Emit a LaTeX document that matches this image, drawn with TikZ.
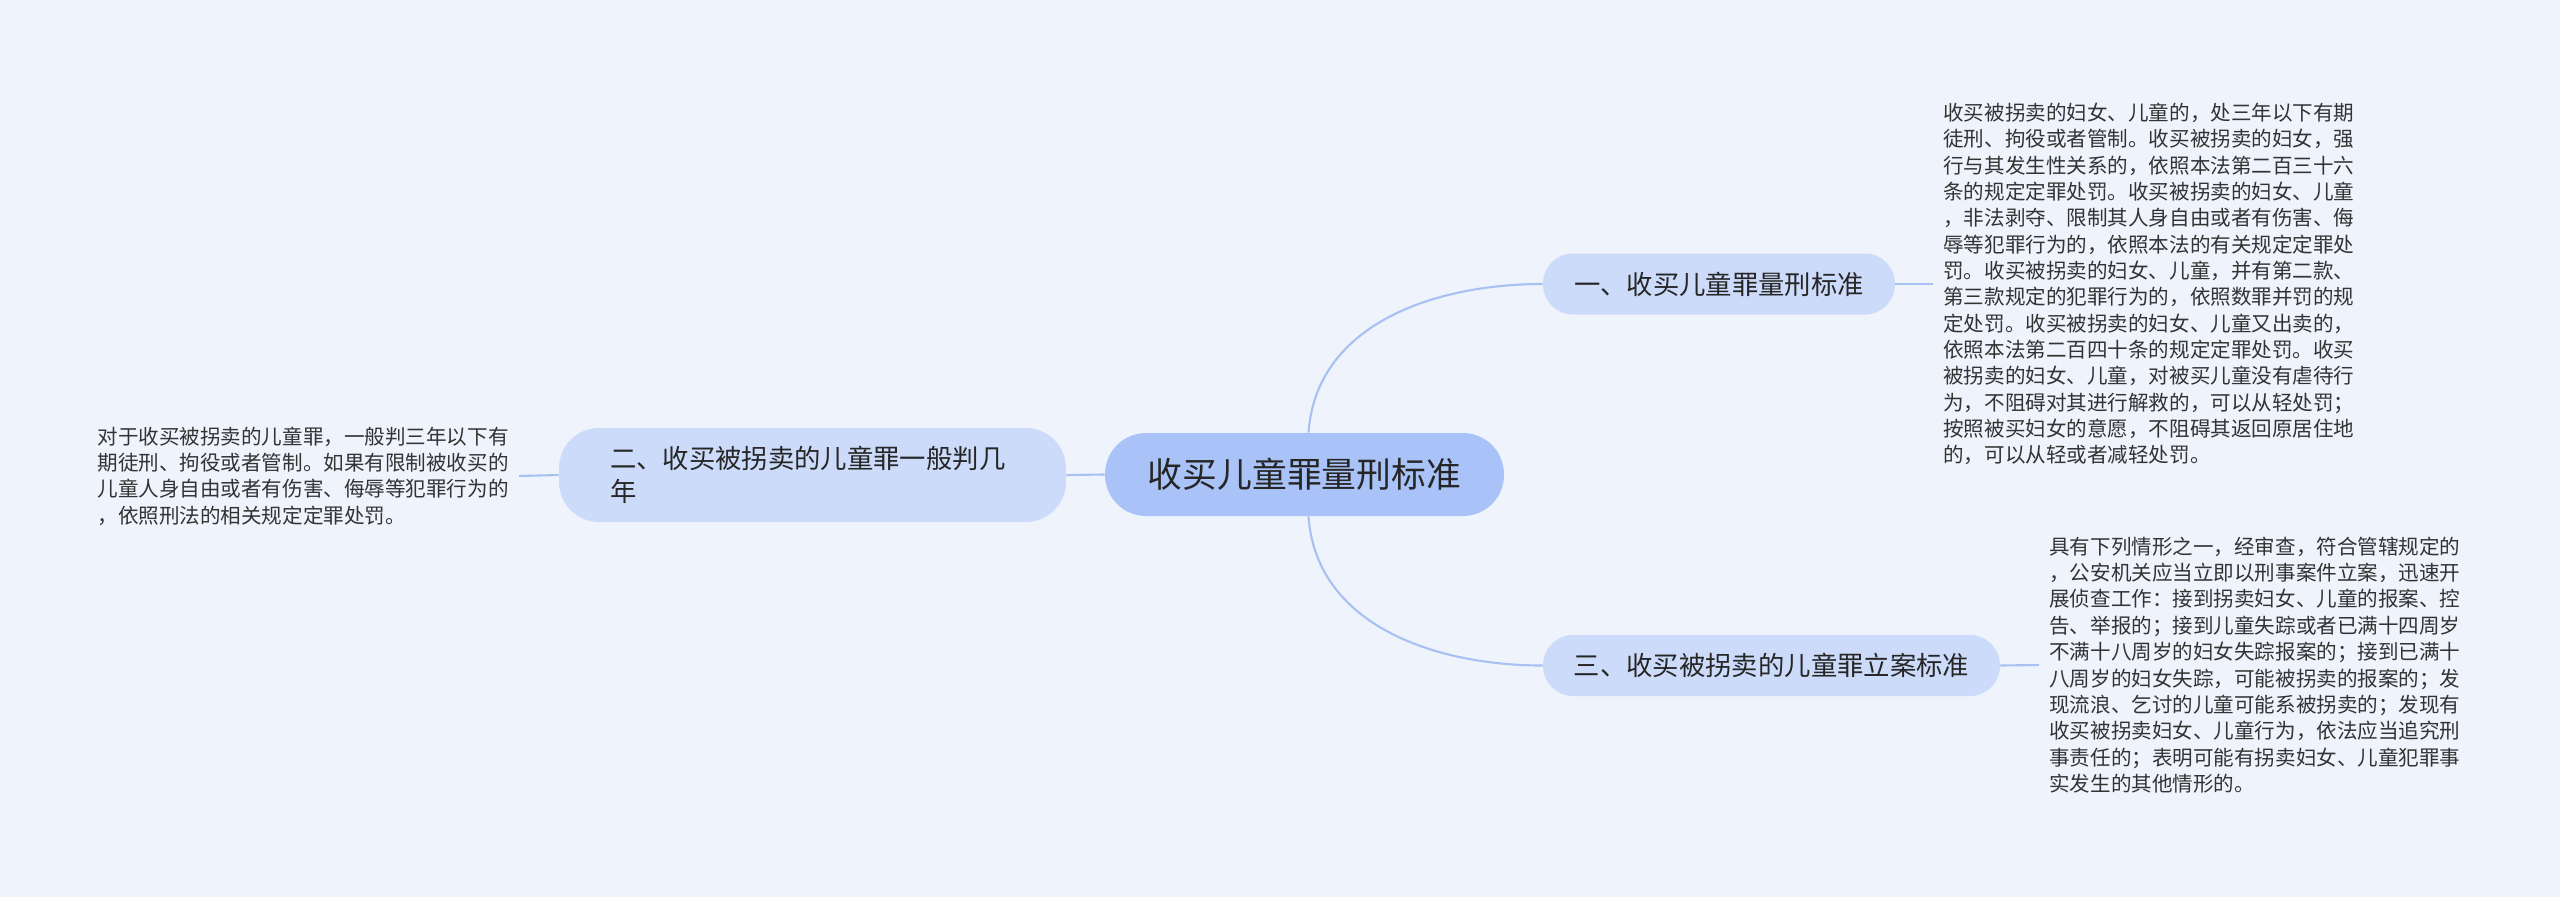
\documentclass[tikz,border=0pt]{standalone}
\usepackage{fontspec}
\setmainfont{Noto Sans CJK SC}
\usepackage{xcolor}
\usepackage{tikz}
\usetikzlibrary{positioning,calc}
\definecolor{bgBlue}{HTML}{EEF3FC}
\definecolor{rootBlue}{HTML}{A9C2F7}
\definecolor{subBlue}{HTML}{CCDBF9}
\definecolor{linkBlue}{HTML}{A8C0F2}
\definecolor{txtGray}{HTML}{333333}

\begin{document}
\begin{tikzpicture}[x=0.02cm,y=-0.02cm,
  rootbox/.style={fill=rootBlue,draw=none,rounded corners=0.82cm,minimum width=7.98cm,minimum height=1.66cm,font=\fontsize{19.8}{24}\selectfont,text=black!85},
  subbox/.style={fill=subBlue,draw=none,rounded corners=0.6cm,minimum height=1.22cm,font=\fontsize{15}{18.6}\selectfont,text=black!85},
  leaftext/.style={align=left,inner xsep=0.2cm,inner ysep=0pt,font=\fontsize{11.7}{15}\selectfont,text=txtGray},
  link/.style={draw=linkBlue,line width=1.2pt}]
\fill[bgBlue] (0,0) rectangle (2560,897);
\useasboundingbox (0,0) rectangle (2560,897);

% centre and branches
\node[rootbox] (root) at (1304.5,474.5) {收买儿童罪量刑标准};
\node[subbox,minimum width=7.04cm] (std) at (1719,284) {一、收买儿童罪量刑标准};
\node[subbox,minimum width=9.14cm] (file) at (1771.5,665.5) {三、收买被拐卖的儿童罪立案标准};
\node[subbox,rounded corners=0.8cm,minimum width=10.14cm,minimum height=1.88cm,align=left,text width=8.1cm,font=\fontsize{15}{18.6}\selectfont] (years) at (812.5,475) {二、收买被拐卖的儿童罪一般判几\\年};

% leaf texts
\node[leaftext,anchor=west] (stdtxt) at (1933,284) {收买被拐卖的妇女、儿童的，处三年以下有期\\
徒刑、拘役或者管制。收买被拐卖的妇女，强\\
行与其发生性关系的，依照本法第二百三十六\\
条的规定定罪处罚。收买被拐卖的妇女、儿童\\
，非法剥夺、限制其人身自由或者有伤害、侮\\
辱等犯罪行为的，依照本法的有关规定定罪处\\
罚。收买被拐卖的妇女、儿童，并有第二款、\\
第三款规定的犯罪行为的，依照数罪并罚的规\\
定处罚。收买被拐卖的妇女、儿童又出卖的，\\
依照本法第二百四十条的规定定罪处罚。收买\\
被拐卖的妇女、儿童，对被买儿童没有虐待行\\
为，不阻碍对其进行解救的，可以从轻处罚；\\
按照被买妇女的意愿，不阻碍其返回原居住地\\
的，可以从轻或者减轻处罚。};
\node[leaftext,anchor=west] (filetxt) at (2039,665) {具有下列情形之一，经审查，符合管辖规定的\\
，公安机关应当立即以刑事案件立案，迅速开\\
展侦查工作：接到拐卖妇女、儿童的报案、控\\
告、举报的；接到儿童失踪或者已满十四周岁\\
不满十八周岁的妇女失踪报案的；接到已满十\\
八周岁的妇女失踪，可能被拐卖的报案的；发\\
现流浪、乞讨的儿童可能系被拐卖的；发现有\\
收买被拐卖妇女、儿童行为，依法应当追究刑\\
事责任的；表明可能有拐卖妇女、儿童犯罪事\\
实发生的其他情形的。};
\node[leaftext,anchor=east] (yearstxt) at (519,476) {对于收买被拐卖的儿童罪，一般判三年以下有\\
期徒刑、拘役或者管制。如果有限制被收买的\\
儿童人身自由或者有伤害、侮辱等犯罪行为的\\
，依照刑法的相关规定定罪处罚。};

% connectors
\draw[link] ($(root.north)+(4,0)$) to[out=86,in=180] (std.west);
\draw[link] ($(root.south)+(4,0)$) to[out=-86,in=180] (file.west);
\draw[link] (years.east) -- (root.west);
\draw[link] (std.east) -- (stdtxt.west);
\draw[link] (file.east) -- (filetxt.west);
\draw[link] (yearstxt.east) -- (years.west);
\end{tikzpicture}
\end{document}
